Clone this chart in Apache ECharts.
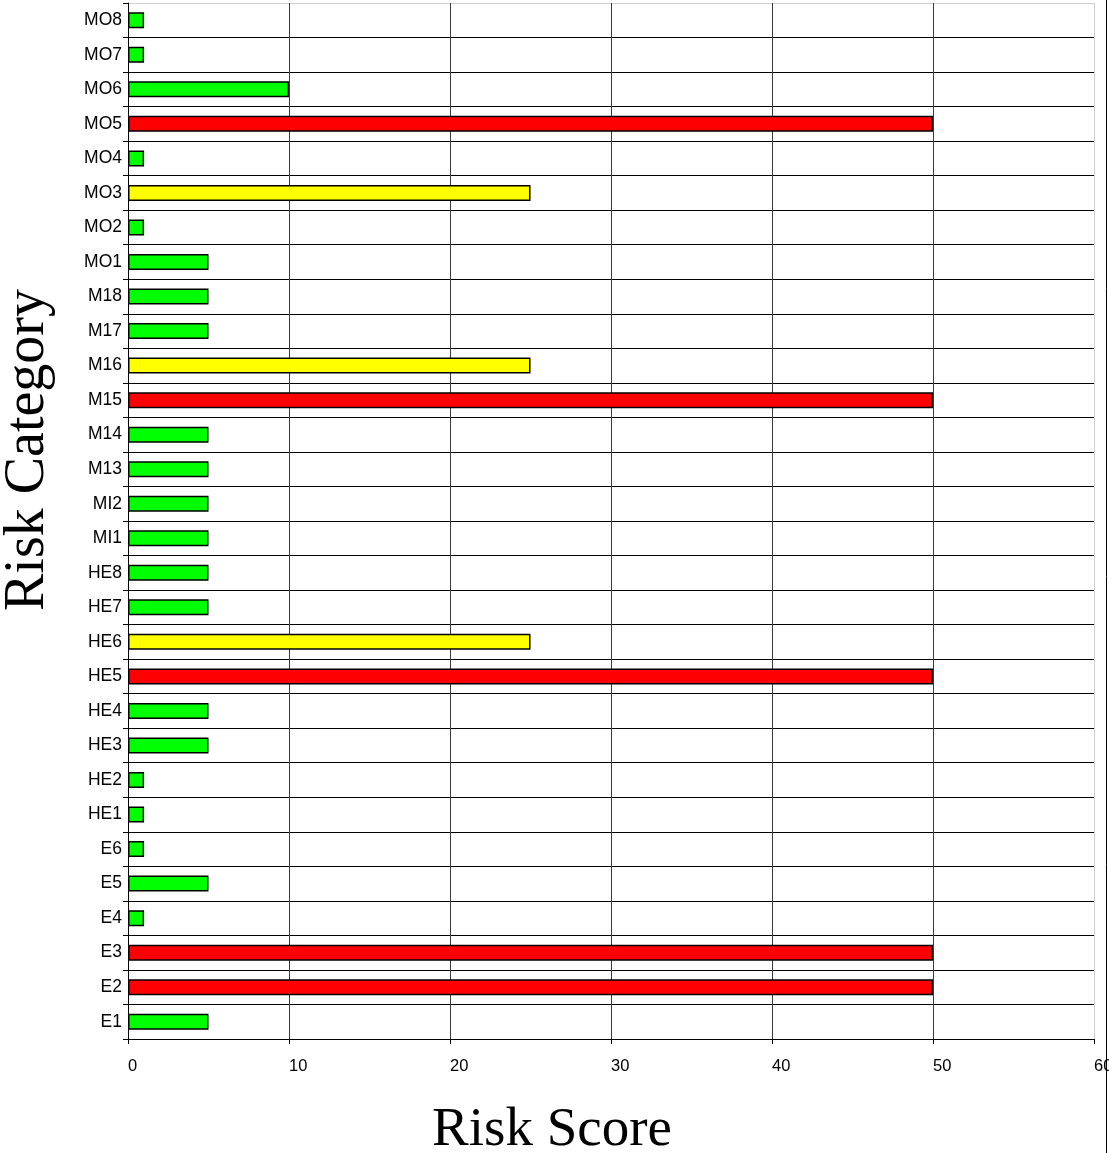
<!DOCTYPE html>
<html>
<head>
<meta charset="utf-8">
<script src="https://cdn.jsdelivr.net/npm/echarts@6/dist/echarts.min.js"></script>
<style>
  html, body { margin: 0; padding: 0; background: #fff; }
  #chart { width: 1109px; height: 1153px; }
</style>
</head>
<body>
<div id="chart"></div>
<script>
// categories from bottom to top
var categories = ['E1', 'E2', 'E3', 'E4', 'E5', 'E6', 'HE1', 'HE2', 'HE3', 'HE4', 'HE5', 'HE6', 'HE7', 'HE8',
  'MI1', 'MI2', 'M13', 'M14', 'M15', 'M16', 'M17', 'M18', 'MO1', 'MO2', 'MO3', 'MO4', 'MO5', 'MO6', 'MO7', 'MO8']
var riskScores = [5, 50, 50, 1, 5, 1, 1, 1, 5, 5, 50, 25, 5, 5,
  5, 5, 5, 5, 50, 25, 5, 5, 5, 1, 25, 1, 50, 10, 1, 1]
var xTicks = [0, 10, 20, 30, 40, 50, 60]

function barColor (v) {
  if (v >= 50) return '#ff0000'
  if (v >= 25) return '#ffff00'
  return '#00ff00'
}

// last split line (top / right edge) is light gray
var hLineColors = categories.map(function () { return '#000' }).concat(['#cfcfcf'])
var vLineColors = xTicks.map(function (t, i) { return i === xTicks.length - 1 ? '#cfcfcf' : '#3a3a3a' })

var chart = echarts.init(document.getElementById('chart'))
chart.setOption({
  animation: false,
  grid: { left: 128, top: 3, right: 15, bottom: 114, containLabel: false, outerBoundsMode: 'none' },
  xAxis: {
    type: 'value',
    min: 0,
    max: 60,
    interval: 10,
    axisLine: { show: true, lineStyle: { color: '#000', width: 1 } },
    axisTick: { show: true, length: 5, lineStyle: { color: '#000' } },
    axisLabel: {
      color: '#000', fontSize: 16.5, fontFamily: 'Liberation Sans, Arial, sans-serif',
      align: 'left', margin: 19
    },
    splitLine: { show: true, lineStyle: { color: vLineColors, width: 1 } },
    name: 'Risk Score',
    nameLocation: 'middle',
    nameGap: 64,
    nameTextStyle: {
      color: '#000', fontSize: 55, fontFamily: 'Liberation Serif, Times New Roman, serif',
      padding: [0, 118, 0, 0]
    }
  },
  yAxis: {
    type: 'category',
    data: categories,
    axisLine: { show: true, lineStyle: { color: '#000', width: 1 } },
    axisTick: { show: true, length: 5, lineStyle: { color: '#000' } },
    axisLabel: {
      color: '#000', fontSize: 17.5, fontFamily: 'Liberation Sans, Arial, sans-serif', margin: 6
    },
    splitLine: { show: true, lineStyle: { color: hLineColors, width: 1 } },
    name: 'Risk Category',
    nameLocation: 'middle',
    nameGap: 72,
    nameRotate: 90,
    nameTextStyle: {
      color: '#000', fontSize: 56, fontFamily: 'Liberation Serif, Times New Roman, serif',
      padding: [0, 0, 0, 142]
    }
  },
  graphic: [{
    type: 'line',
    shape: { x1: 1106.5, y1: 0, x2: 1106.5, y2: 1153 },
    style: { stroke: '#000', lineWidth: 1 }
  }],
  series: [{
    type: 'bar',
    barWidth: 16,
    data: riskScores.map(function (v) {
      return {
        value: v,
        itemStyle: { color: barColor(v), borderColor: '#000', borderWidth: 1.5 }
      }
    })
  }]
})
</script>
</body>
</html>
